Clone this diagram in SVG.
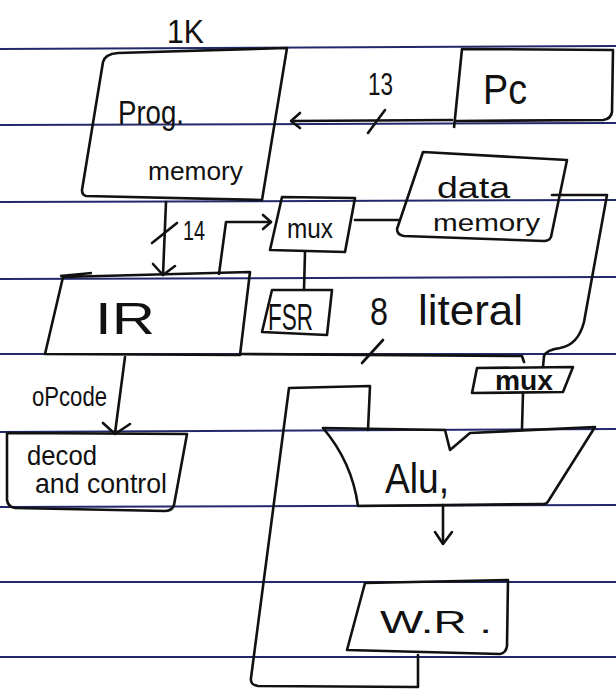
<svg xmlns="http://www.w3.org/2000/svg" width="616" height="693" viewBox="0 0 616 693">
<style>
.rule{stroke:#22286a;stroke-width:2;fill:none}
.ink{stroke:#111;stroke-width:2.6;fill:none;stroke-linecap:round;stroke-linejoin:round}
.box{stroke:#111;stroke-width:2.6;fill:none;stroke-linejoin:round}
text{font-family:"Liberation Sans","DejaVu Sans",sans-serif;fill:#111}
</style>
<rect x="0" y="0" width="616" height="693" fill="#ffffff"/>
<g id="paper">
<path class="rule" d="M0,49 L616,46"/>
<path class="rule" d="M0,125 L616,123"/>
<path class="rule" d="M0,202 L616,200"/>
<path class="rule" d="M0,279 L616,277"/>
<path class="rule" d="M0,354 L616,354"/>
<path class="rule" d="M0,432 L616,429"/>
<path class="rule" d="M0,507 L616,505"/>
<path class="rule" d="M0,582 L616,582"/>
<path class="rule" d="M0,657 L616,657"/>
</g>
<g id="label-1k"><text x="167" y="43" font-size="34" textLength="37" lengthAdjust="spacingAndGlyphs">1K</text></g>
<g id="prog-memory">
<path class="box" d="M118,53 L287,48 L262,200 L86,196 Q82,195 82,190 L103,62 Q105,54 118,53 Z"/>
<text x="118" y="124" font-size="34" textLength="66" lengthAdjust="spacingAndGlyphs">Prog.</text>
<text x="148" y="180" font-size="26" textLength="95" lengthAdjust="spacingAndGlyphs">memory</text>
</g>
<g id="pc">
<path class="box" d="M454,128 L462,49 L613,50 L612,112 Q611,119 603,120 L456,121"/>
<text x="483" y="104" font-size="42" textLength="44" lengthAdjust="spacingAndGlyphs">Pc</text>
</g>
<g id="data-memory">
<path class="box" d="M423,152 L567,160 L551,237 Q549,241 544,241 L404,236 Q397,235 397,229 Z"/>
<text x="437" y="198" font-size="30" textLength="73" lengthAdjust="spacingAndGlyphs">data</text>
<text x="433" y="231" font-size="24" textLength="107" lengthAdjust="spacingAndGlyphs">memory</text>
</g>
<g id="mux-upper">
<path class="box" d="M282,197 L355,198 L345,252 L270,250 Z"/>
<text x="287" y="238" font-size="27" textLength="46" lengthAdjust="spacingAndGlyphs">mux</text>
</g>
<g id="ir">
<path class="box" d="M60,276 L92,273 M63,277 L250,272 L240,355 L45,354 Z"/>
<text x="95" y="334" font-size="44" textLength="60" lengthAdjust="spacingAndGlyphs">IR</text>
</g>
<g id="fsr">
<path class="box" d="M272,290 L332,290 L327,335 L262,332 Z"/>
<text x="268" y="330" font-size="36" textLength="45" lengthAdjust="spacingAndGlyphs">FSR</text>
</g>
<g id="literal-label">
<text x="370" y="325" font-size="38" textLength="18" lengthAdjust="spacingAndGlyphs">8</text>
<text x="418" y="325" font-size="42" textLength="105" lengthAdjust="spacingAndGlyphs">literal</text>
</g>
<g id="mux-lower">
<path class="box" d="M477,368 L573,367 L563,392 L472,393 Z"/>
<text x="495" y="390" font-size="28" font-weight="bold" textLength="58" lengthAdjust="spacingAndGlyphs">mux</text>
</g>
<g id="decode-control">
<path class="box" d="M7,433 L187,434 L174,505 Q172,511 165,511 L15,508 Q8,507 7,500 Z"/>
<text x="27" y="465" font-size="28" textLength="70" lengthAdjust="spacingAndGlyphs">decod</text>
<text x="35" y="493" font-size="28" textLength="132" lengthAdjust="spacingAndGlyphs">and control</text>
</g>
<g id="alu">
<path class="box" d="M323,428 L445,430 L450,450 L470,433 L595,427 L549,500 Q547,504 544,504 L358,506 Q352,462 323,428 Z"/>
<text x="385" y="493" font-size="42" textLength="64" lengthAdjust="spacingAndGlyphs">Alu,</text>
</g>
<g id="w-register">
<path class="box" d="M365,583 L508,580 L507,646 Q506,653 500,654 L347,650 Z"/>
<text x="380" y="633" font-size="32" textLength="112" lengthAdjust="spacingAndGlyphs">W.R .</text>
</g>
<g id="connectors">
<path class="ink" d="M452,120 L292,121"/>
<path class="ink" d="M300,113 L291,121 L300,128"/>
<path class="ink" d="M368,133 L385,110"/>
<text x="368" y="95" font-size="31" textLength="25" lengthAdjust="spacingAndGlyphs">13</text>
<path class="ink" d="M166,202 L163,275"/>
<path class="ink" d="M153,264 L163,275 L175,266"/>
<path class="ink" d="M152,243 L177,223"/>
<text x="183" y="240" font-size="28" textLength="22" lengthAdjust="spacingAndGlyphs">14</text>
<path class="ink" d="M219,274 L226,222 L271,222"/>
<path class="ink" d="M263,215 L271,222 L263,229"/>
<path class="ink" d="M355,220 L399,220"/>
<path class="ink" d="M305,252 L304,290"/>
<path class="ink" d="M552,195 L607,195 L584,322 Q578,345 560,348 Q546,350 544,356 L543,367"/>
<path class="ink" d="M240,354 L522,356 L524,362"/>
<path class="ink" d="M362,363 L383,340"/>
<path class="ink" d="M125,357 L115,433"/>
<path class="ink" d="M103,423 L115,434 L130,424"/>
<text x="32" y="406" font-size="27" textLength="75" lengthAdjust="spacingAndGlyphs">oPcode</text>
<path class="ink" d="M523,393 L522,428"/>
<path class="ink" d="M443,505 L443,543"/>
<path class="ink" d="M435,532 L443,544 L452,532"/>
<path class="ink" d="M418,655 L418,687 L258,686 Q250,685 251,678 L289,388 L370,386 L368,430"/>
</g>
</svg>
